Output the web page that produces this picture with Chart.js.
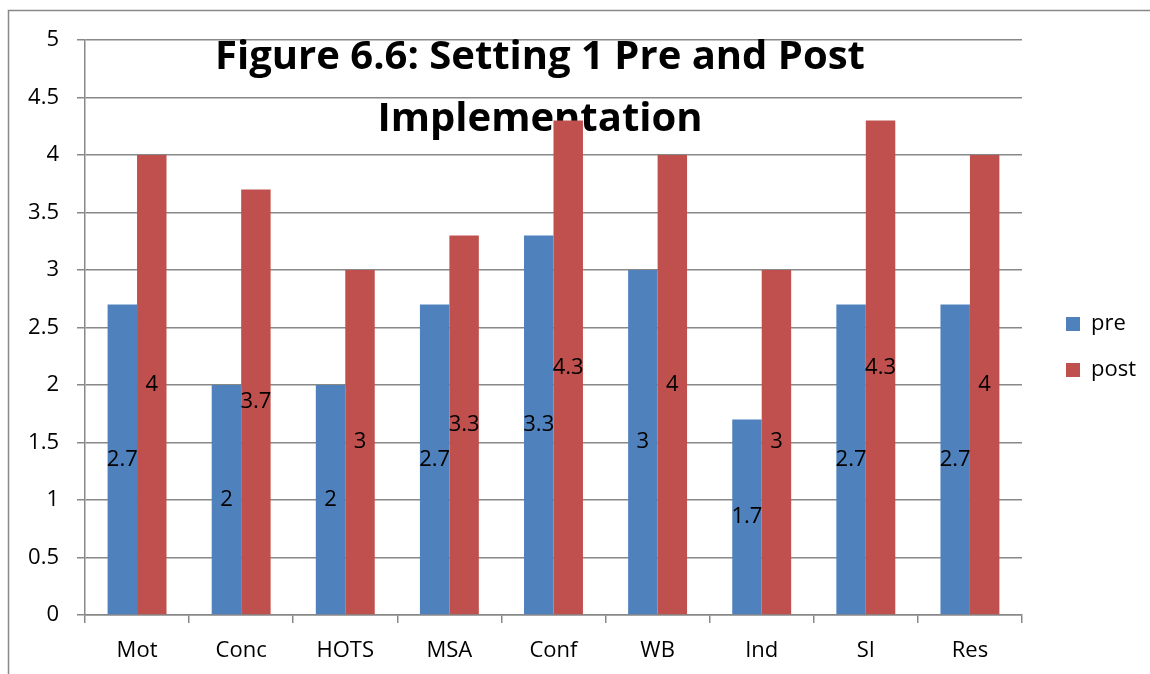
<!DOCTYPE html>
<html>
<head>
<meta charset="utf-8">
<script src="https://cdn.jsdelivr.net/npm/chart.js@4"></script>
<style>
    html, body { margin: 0; padding: 0; background: #fff; }
    #wrap { width: 1150px; height: 674px; }
</style>
</head>
<body>
<div id="wrap"><canvas id="settingChart" width="1150" height="674"></canvas></div>
<script>
var categories = ['Mot', 'Conc', 'HOTS', 'MSA', 'Conf', 'WB', 'Ind', 'SI', 'Res'];
var preValues = [2.7, 2, 2, 2.7, 3.3, 3, 1.7, 2.7, 2.7];
var postValues = [4, 3.7, 3, 3.3, 4.3, 4, 3, 4.3, 4];
var titleLines = ['Figure 6.6: Setting 1 Pre and Post', 'Implementation'];

var gridColor = '#888888';
var fontFamily = '"Open Sans", sans-serif';

// frame round the chart, only left and top edges are visible
var framePlugin = {
    id: 'frame',
    beforeDraw: function (chart) {
        var ctx = chart.ctx;
        ctx.save();
        ctx.strokeStyle = gridColor;
        ctx.lineWidth = 1.5;
        ctx.beginPath();
        ctx.moveTo(8.5, 700);
        ctx.lineTo(8.5, 10.5);
        ctx.lineTo(1200, 10.5);
        ctx.stroke();
        ctx.restore();
    }
};

// title sits inside the plot, behind the bars
var titlePlugin = {
    id: 'insideTitle',
    beforeDatasetsDraw: function (chart) {
        var ctx = chart.ctx;
        ctx.save();
        ctx.font = 'bold 40px ' + fontFamily;
        ctx.fillStyle = '#000';
        ctx.textAlign = 'center';
        ctx.textBaseline = 'middle';
        ctx.fillText(titleLines[0], 540, 58);
        ctx.fillText(titleLines[1], 540, 120);
        ctx.restore();
    }
};

// value labels in the middle of each bar
var valueLabels = {
    id: 'valueLabels',
    afterDatasetsDraw: function (chart) {
        var ctx = chart.ctx;
        ctx.save();
        ctx.font = '22px ' + fontFamily;
        ctx.fillStyle = '#000';
        ctx.textAlign = 'center';
        ctx.textBaseline = 'middle';
        chart.data.datasets.forEach(function (ds, i) {
            chart.getDatasetMeta(i).data.forEach(function (bar, j) {
                var mid = (bar.y + bar.base) / 2;
                ctx.fillText(String(ds.data[j]), bar.x, mid);
            });
        });
        ctx.restore();
    }
};

// move the legend to where it sits in the picture
var legendShift = {
    id: 'legendShift',
    afterLayout: function (chart) {
        var lg = chart.legend;
        var dx = 1066 - (lg.left + lg.options.labels.padding);
        lg.left += dx;
        lg.right += dx;
        lg.top -= 10;
        lg.bottom -= 10;
    }
};

var ctx = document.getElementById('settingChart');
var chart = new Chart(ctx, {
    type: 'bar',
    data: {
        labels: categories,
        datasets: [{
            label: 'pre',
            data: preValues,
            backgroundColor: '#4F81BD'
        }, {
            label: 'post',
            data: postValues,
            backgroundColor: '#C0504D'
        }]
    },
    options: {
        responsive: false,
        animation: false,
        events: [],
        barPercentage: 1,
        categoryPercentage: 0.566,
        layout: {
            padding: { top: 40, right: 24, bottom: 0, left: 0 }
        },
        scales: {
            x: {
                grid: {
                    offset: true,
                    drawOnChartArea: false,
                    color: gridColor,
                    lineWidth: 1.5,
                    tickLength: 8
                },
                border: { color: gridColor, width: 1.5 },
                ticks: {
                    color: '#000',
                    font: { family: fontFamily, size: 22 },
                    padding: 15,
                    maxRotation: 0
                },
                afterFit: function (scale) {
                    scale.height = 59;
                }
            },
            y: {
                min: 0,
                max: 5,
                ticks: {
                    stepSize: 0.5,
                    color: '#000',
                    font: { family: fontFamily, size: 22 },
                    padding: 18,
                    callback: function (value) {
                        return String(value);
                    }
                },
                grid: {
                    color: gridColor,
                    lineWidth: 1.5,
                    tickLength: 8
                },
                border: { color: gridColor, width: 1.5 },
                afterFit: function (scale) {
                    scale.width = 85;
                }
            }
        },
        plugins: {
            legend: {
                position: 'right',
                labels: {
                    boxWidth: 14,
                    boxHeight: 14,
                    padding: 24,
                    color: '#000',
                    font: { family: fontFamily, size: 22 }
                }
            },
            title: { display: false },
            tooltip: { enabled: false }
        }
    },
    plugins: [framePlugin, titlePlugin, valueLabels, legendShift]
});
</script>
</body>
</html>
